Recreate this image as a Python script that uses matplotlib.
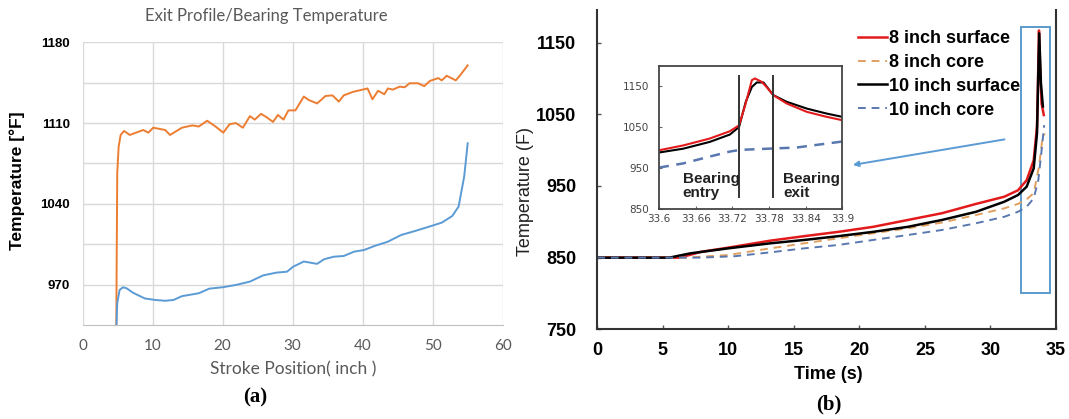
import matplotlib
matplotlib.use("Agg")
import matplotlib.pyplot as plt
from matplotlib.patches import Rectangle

# ---- panel (a): exit profile / bearing temperature vs stroke position ----
a_orange_x = [4.82, 4.96, 5.16, 5.45, 5.93, 6.75, 8.67, 9.4, 10.1, 11.8, 12.5, 14.2, 15.7,
              16.6, 17.8, 19.0, 20.1, 21.0, 21.9, 22.9, 23.9, 24.6, 25.5, 26.3, 27.2, 27.9,
              28.7, 29.4, 30.4, 31.6, 32.3, 33.5, 34.7, 35.7, 36.6, 37.3, 38.6, 39.8, 40.7,
              41.4, 42.2, 43.1, 43.6, 44.3, 45.3, 46.0, 46.7, 47.9, 48.8, 49.6, 50.8, 51.3,
              52.0, 53.3, 54.0, 55.0]
a_orange_y = [930, 1066.5, 1089.6, 1099.7, 1103.2, 1099.7, 1104, 1101.7, 1106, 1104, 1099.7,
              1106, 1108, 1107, 1112, 1107, 1101.7, 1109, 1110, 1106, 1116, 1113, 1118, 1115,
              1111, 1117, 1113, 1121, 1121, 1133, 1130, 1127, 1133.5, 1134, 1128.6, 1134,
              1137, 1138.7, 1140, 1130.6, 1138, 1135, 1140, 1139, 1141.6, 1141, 1144.5,
              1144.5, 1142, 1146.5, 1149, 1147, 1151, 1147, 1152, 1160]

a_blue_x = [4.82, 4.96, 5.3, 5.78, 6.3, 7.2, 8.9, 10.4, 11.8, 13.0, 14.2, 16.6, 18.1, 20.0,
            21.9, 23.9, 25.8, 27.7, 29.2, 30.1, 31.6, 33.5, 34.5, 35.9, 37.3, 38.8, 40.2,
            41.7, 43.6, 45.5, 47.5, 49.9, 51.3, 52.8, 53.7, 54.5, 55.0]
a_blue_y = [930, 954, 965.4, 967.7, 966.8, 963, 958, 956.7, 956, 956.7, 960, 962.5, 966.5,
            967.7, 969.7, 972.6, 978, 980.4, 981.2, 985.6, 990, 988, 992, 994.2, 994.8,
            998.6, 1000, 1003.5, 1007.2, 1013, 1016.5, 1021, 1023.7, 1029.5, 1037.6,
            1063.6, 1092.5]

a_yticks = [970, 1005, 1040, 1075, 1110, 1145, 1180]
a_ylabels = ["970", "", "1040", "", "1110", "", "1180"]
a_xticks = [0, 10, 20, 30, 40, 50, 60]

# ---- panel (b): temperature vs time ----
s8_x = [0, 6.3, 7.9, 10.0, 13.2, 15.8, 18.4, 21.05, 23.7, 26.3, 28.9, 31.05, 32.1, 32.76,
        33.3, 33.55, 33.62, 33.7, 33.8, 33.9, 34.07]
s8_y = [850, 850, 858, 864, 873.7, 880, 886, 893, 902.6, 912, 925, 935, 944, 958, 986,
        1033, 1090, 1167, 1110, 1065, 1049]
c8_x = [0, 6.8, 10.0, 13.2, 15.8, 18.4, 21.05, 23.7, 26.3, 28.9, 31.05, 32.1, 32.76, 33.3,
        33.7, 33.95, 34.13]
c8_y = [850, 850, 853.7, 863, 870, 877, 884, 891, 899, 909.5, 918.8, 925, 931.4, 940, 977,
        1014, 1023.5]
s10_x = [0, 5.5, 7.1, 10.0, 13.2, 15.8, 18.4, 21.05, 23.7, 26.3, 28.9, 31.05, 32.1, 32.76,
         33.3, 33.55, 33.64, 33.72, 33.85, 34.0]
s10_y = [850, 850, 856, 863, 870, 874.7, 880, 886, 893, 902.6, 914, 928, 937.4, 949, 974.7,
         1023.5, 1100, 1163, 1093, 1061]
c10_x = [0, 7.9, 10.5, 13.2, 15.8, 18.4, 21.05, 23.7, 26.3, 28.9, 31.05, 32.1, 32.76, 33.3,
         33.65, 33.85, 34.1]
c10_y = [850, 850, 852, 857.4, 863, 867.7, 874.7, 881.6, 888.6, 898, 907, 914, 921, 932.8,
         958, 991, 1035]
b_labels = ["8 inch surface", "8 inch core", "10 inch surface", "10 inch core"]

# inset (zoom of bearing region)
in_s8_x = [33.6, 33.64, 33.683, 33.716, 33.731, 33.741, 33.752, 33.757, 33.768, 33.776,
           33.787, 33.809, 33.842, 33.874, 33.9]
in_s8_y = [993, 1005, 1021.7, 1039.6, 1054, 1103, 1164.7, 1168.8, 1160.6, 1148, 1128,
           1107.5, 1087, 1075, 1066.6]
in_s10_x = [33.6, 33.64, 33.683, 33.716, 33.731, 33.742, 33.752, 33.76, 33.771, 33.787,
            33.809, 33.842, 33.874, 33.9]
in_s10_y = [987.5, 997, 1013.5, 1031.5, 1050, 1111.6, 1148, 1159, 1159, 1128, 1111.6,
            1095, 1083, 1074.8]
in_c10_x = [33.6, 33.64, 33.683, 33.716, 33.733, 33.771, 33.825, 33.9]
in_c10_y = [950.6, 961, 977.6, 989.9, 994, 996.4, 999.7, 1014.4]
in_xticks = [33.6, 33.66, 33.72, 33.78, 33.84, 33.9]
in_xlabels = ["33.6", "33.66", "33.72", "33.78", "33.84", "33.9"]
bearing_entry = 33.7315
bearing_exit = 33.787

W, H = 1069, 419
fig = plt.figure(figsize=(W / 100, H / 100), dpi=100)
fig.patch.set_facecolor("white")

def box(l, t, r, b):
    return [l / W, 1 - b / H, (r - l) / W, (b - t) / H]

grey = "#595959"
# ---------------- panel (a)
ax = fig.add_axes(box(82.5, 42.3, 502.7, 325))
ax.plot(a_orange_x, a_orange_y, color="#ED7D31", lw=1.4)
ax.plot(a_blue_x, a_blue_y, color="#5B9BD5", lw=1.4)
ax.set_xlim(0, 60)
ax.set_ylim(935, 1180)
ax.set_xticks(a_xticks)
ax.set_yticks(a_yticks)
ax.set_yticklabels(a_ylabels, fontsize=9.5, fontweight="bold", family="Liberation Sans")
ax.set_xticklabels([str(v) for v in a_xticks], fontsize=11, color=grey, family="Lato")
ax.tick_params(length=0)
ax.tick_params(axis="y", pad=9)
ax.tick_params(axis="x", pad=10)
ax.grid(True, color="#d9d9d9", lw=1)
ax.set_axisbelow(True)
for s in ["top", "right", "left"]:
    ax.spines[s].set_visible(False)
ax.spines["bottom"].set_color("#bfbfbf")
fig.text(266 / W, 1 - 16 / H, "Exit Profile/Bearing Temperature", ha="center", va="center",
         fontsize=12, color=grey, family="Lato")
fig.text(293 / W, 1 - 369 / H, "Stroke Position( inch )", ha="center", va="center",
         fontsize=12.5, color=grey, family="Lato")
fig.text(17 / W, 1 - 181 / H, "Temperature [°F]", rotation=90, ha="center", va="center",
         fontsize=12.5, fontweight="bold", family="Liberation Sans")
fig.text(255 / W, 1 - 397 / H, "(a)", ha="center", va="center", fontsize=15,
         fontweight="bold", family="Liberation Serif")

# ---------------- panel (b)
bx = fig.add_axes(box(597.3, 10, 1056, 329.3))
bx.plot(s8_x, s8_y, color="#e31a1c", lw=1.8, label=b_labels[0])
bx.plot(c8_x, c8_y, color="#e0a060", lw=1.4, ls=(0, (4, 3)), label=b_labels[1])
bx.plot(s10_x, s10_y, color="black", lw=1.8, label=b_labels[2])
bx.plot(c10_x, c10_y, color="#5a78b0", lw=1.4, ls=(0, (4, 3)), label=b_labels[3])
bx.set_xlim(0, 35)
bx.set_ylim(750, 1195.6)
bx.set_xticks(range(0, 36, 5))
bx.set_yticks([750, 850, 950, 1050, 1150])
for lab in bx.get_xticklabels() + bx.get_yticklabels():
    lab.set_fontweight("bold")
    lab.set_fontsize(13)
    lab.set_family("Liberation Sans")
bx.tick_params(direction="in", length=3, width=1, color="#555")
bx.tick_params(axis="y", pad=15)
bx.tick_params(axis="x", pad=9)
bx.spines["top"].set_visible(False)
for s in ["left", "right", "bottom"]:
    bx.spines[s].set_color("#333333")
    bx.spines[s].set_linewidth(1.5)
bx.add_patch(Rectangle((32.35, 800.7), 2.18, 371.3, fill=False, ec="#4f93c8", lw=1.3))
bx.annotate("", xy=(19.5, 979.4), xytext=(31.07, 1015),
            arrowprops=dict(arrowstyle="-|>", color="#5b9bd5", lw=1.4,
                            mutation_scale=8, shrinkA=0, shrinkB=0))
leg = bx.legend(loc="upper left", bbox_to_anchor=(849 / W, 1 - 21 / H),
                bbox_transform=fig.transFigure, frameon=False, borderpad=0,
                handlelength=1.6, handletextpad=0.1, labelspacing=0.38,
                prop={"family": "Liberation Sans", "weight": "bold", "size": 13})
fig.text(828 / W, 1 - 374 / H, "Time (s)", ha="center", va="center", fontsize=13,
         fontweight="bold", family="Liberation Sans")
fig.text(526 / W, 1 - 191 / H, "Temperature (F)", rotation=90, ha="center", va="center",
         fontsize=13, color="#222222", family="Liberation Sans")
fig.text(829 / W, 1 - 404 / H, "(b)", ha="center", va="center", fontsize=15,
         fontweight="bold", family="Liberation Serif")

# ---------------- inset
ix = fig.add_axes(box(659, 65.7, 842.3, 208.7))
ix.plot(in_c10_x, in_c10_y, color="#5a78b0", lw=1.8, ls=(0, (4, 3)))
ix.plot(in_s10_x, in_s10_y, color="black", lw=1.5)
ix.plot(in_s8_x, in_s8_y, color="#e31a1c", lw=1.5)
ix.axvline(bearing_entry, ymin=(878 - 850) / 350, ymax=(1175 - 850) / 350, color="#333", lw=1.4)
ix.axvline(bearing_exit, ymin=(878 - 850) / 350, ymax=(1175 - 850) / 350, color="#333", lw=1.4)
ix.set_xlim(33.6, 33.9)
ix.set_ylim(850, 1200)
ix.set_xticks(in_xticks)
ix.set_xticklabels(in_xlabels)
ix.set_yticks([850, 950, 1050, 1150])
ix.tick_params(direction="in", length=2, labelsize=7.5, labelcolor="#444", color="#666")
ix.tick_params(axis="y", pad=7)
ix.tick_params(axis="x", pad=4)
for s in ix.spines.values():
    s.set_color("#444")
    s.set_linewidth(1.3)
ix.text(33.6387, 940, "Bearing\nentry", ha="left", va="top", fontsize=11,
        fontweight="bold", family="Liberation Sans", color="#222", linespacing=1.0)
ix.text(33.803, 940, "Bearing\nexit", ha="left", va="top", fontsize=11,
        fontweight="bold", family="Liberation Sans", color="#222", linespacing=1.0)

fig.savefig("out.png", dpi=100, facecolor="white")
